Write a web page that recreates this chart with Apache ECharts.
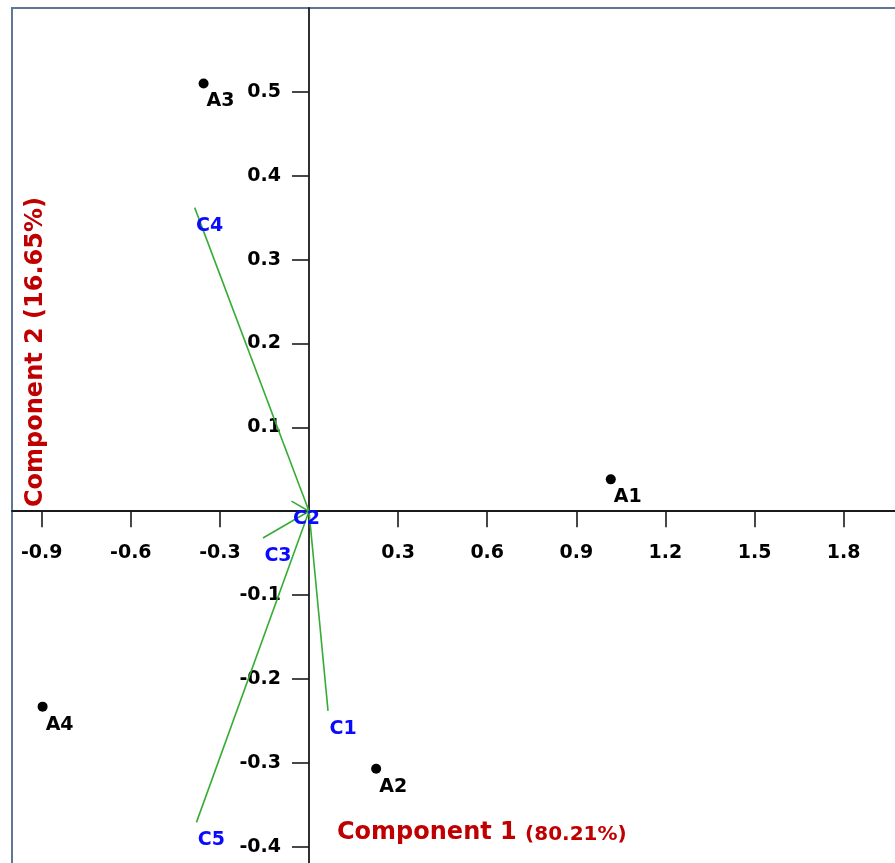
<!DOCTYPE html>
<html>
<head>
<meta charset="utf-8">
<script src="https://cdn.jsdelivr.net/npm/echarts@6/dist/echarts.min.js"></script>
<style>
  html, body { margin: 0; padding: 0; background: #fff; }
  #chart { width: 895px; height: 863px; }
</style>
</head>
<body>
<div id="chart"></div>
<script>
// observations (scores)
var pointNames = ['A1', 'A2', 'A3', 'A4'];
var pointX = [1.016, 0.226, -0.355, -0.897];
var pointY = [0.038, -0.307, 0.510, -0.233];

// variables (loadings)
var vecNames = ['C1', 'C2', 'C3', 'C4', 'C5'];
var vecX = [0.064, -0.059, -0.155, -0.385, -0.379];
var vecY = [-0.238, 0.012, -0.032, 0.362, -0.371];

var xTicks = [-0.9, -0.6, -0.3, 0.3, 0.6, 0.9, 1.2, 1.5, 1.8];
var yTicks = [-0.4, -0.3, -0.2, -0.1, 0.1, 0.2, 0.3, 0.4, 0.5];

var xTitle = 'Component 1';
var xPct = '(80.21%)';
var yTitle = 'Component 2 (16.65%)';

var xMin = -1.0, xMax = 1.983;
var yMin = -0.423, yMax = 0.6;

var chart = echarts.init(document.getElementById('chart'));

var font = 'DejaVu Sans';
var red = '#c00000';
var series = [];

for (var i = 0; i < vecNames.length; i++) {
    series.push({
        type: 'line',
        data: [[0, 0], [vecX[i], vecY[i]]],
        showSymbol: false,
        symbol: 'none',
        lineStyle: { color: '#35ad35', width: 1.6 },
        z: 2,
        silent: true
    });
}

var vecData = [];
for (var i = 0; i < vecNames.length; i++) {
    vecData.push({ name: vecNames[i], value: [vecX[i], vecY[i]] });
}
series.push({
    type: 'scatter',
    data: vecData,
    symbolSize: 1,
    itemStyle: { color: 'transparent', opacity: 1 },
    label: {
        show: true,
        position: 'inside',
        offset: [15, 18],
        formatter: '{b}',
        color: '#0a0aff',
        opacity: 1,
        fontFamily: font,
        fontWeight: 'bold',
        fontSize: 19
    },
    z: 4
});

var ptData = [];
for (var i = 0; i < pointNames.length; i++) {
    ptData.push({ name: pointNames[i], value: [pointX[i], pointY[i]] });
}
series.push({
    type: 'scatter',
    data: ptData,
    symbolSize: 10,
    itemStyle: { color: '#000', opacity: 1 },
    label: {
        show: true,
        position: 'inside',
        offset: [17, 18],
        formatter: '{b}',
        color: '#000',
        opacity: 1,
        fontFamily: font,
        fontWeight: 'bold',
        fontSize: 19
    },
    z: 5
});

var tickLabel = {
    color: '#000',
    fontFamily: font,
    fontWeight: 'bold',
    fontSize: 19,
    formatter: function (v) { return v.toFixed(1); }
};

var option = {
    animation: false,
    backgroundColor: '#fff',
    grid: {
        left: 12, top: 8, right: -3, bottom: -3,
        containLabel: false,
        outerBoundsMode: 'none',
        show: true,
        borderColor: '#5f7794',
        borderWidth: 2,
        backgroundColor: 'transparent'
    },
    xAxis: {
        type: 'value',
        min: xMin,
        max: xMax,
        position: 'bottom',
        axisLine: { onZero: false, lineStyle: { color: '#1a1a1a', width: 1.8 } },
        axisTick: { show: true, length: 16, customValues: xTicks, lineStyle: { color: '#1a1a1a', width: 1.6 } },
        axisLabel: Object.assign({ customValues: xTicks, margin: 32 }, tickLabel),
        splitLine: { show: false }
    },
    yAxis: {
        type: 'value',
        min: yMin,
        max: yMax,
        position: 'left',
        axisLine: { onZero: false, lineStyle: { color: '#1a1a1a', width: 1.8 } },
        axisTick: { show: true, length: 17, customValues: yTicks, lineStyle: { color: '#1a1a1a', width: 1.6 } },
        axisLabel: Object.assign({ customValues: yTicks, margin: 28 }, tickLabel),
        splitLine: { show: false }
    },
    graphic: [
        {
            type: 'text',
            left: 337,
            top: 821,
            style: {
                text: '{a|' + xTitle + ' }{b|' + xPct + '}',
                rich: {
                    a: { fontFamily: font, fontWeight: 'bold', fontSize: 24, fill: red, lineHeight: 30, verticalAlign: 'bottom' },
                    b: { fontFamily: font, fontWeight: 'bold', fontSize: 20, fill: red, lineHeight: 27, verticalAlign: 'bottom' }
                }
            }
        },
        {
            type: 'text',
            x: 36,
            y: 352,
            rotation: Math.PI / 2,
            style: {
                text: yTitle,
                fontFamily: font,
                fontWeight: 'bold',
                fontSize: 24,
                fill: red,
                align: 'center',
                verticalAlign: 'middle'
            }
        }
    ],
    series: series
};

chart.setOption(option);

// move both axes (line, ticks, labels) onto the zero lines
var zero = chart.convertToPixel({ gridIndex: 0 }, [0, 0]);
var corner = chart.convertToPixel({ gridIndex: 0 }, [xMin, yMin]);
chart.setOption({
    xAxis: { offset: zero[1] - corner[1] },
    yAxis: { offset: corner[0] - zero[0] }
});
</script>
</body>
</html>
